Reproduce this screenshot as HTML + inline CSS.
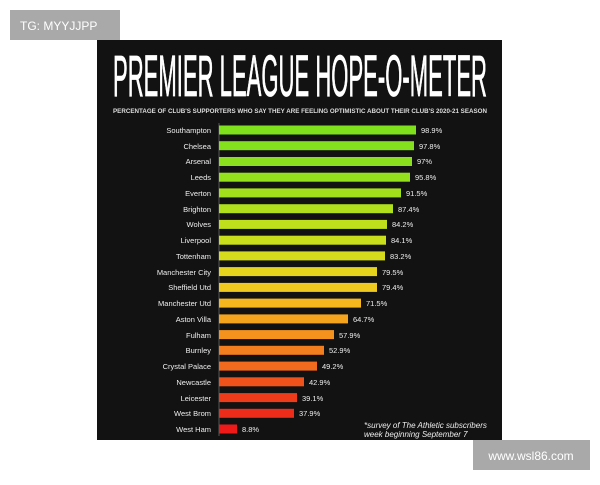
<!DOCTYPE html>
<html><head><meta charset="utf-8"><style>
body{margin:0;background:#fff;width:600px;height:480px;overflow:hidden}
</style></head><body>
<svg width="600" height="480" xmlns="http://www.w3.org/2000/svg" font-family="Liberation Sans, sans-serif">
<rect x="10" y="10" width="110" height="30" fill="#a9a9a9"/>
<text x="20" y="30" font-size="12" fill="#fff">TG: MYYJJPP</text>
<rect x="97" y="40" width="405" height="400" fill="#121212"/>
<text x="113" y="96" font-size="58" fill="#fff" stroke="#fff" stroke-width="0.8" textLength="374" lengthAdjust="spacingAndGlyphs">PREMIER LEAGUE HOPE-O-METER</text>
<text x="113" y="113" font-size="6" font-weight="bold" fill="#ddd" textLength="374" lengthAdjust="spacingAndGlyphs">PERCENTAGE OF CLUB'S SUPPORTERS WHO SAY THEY ARE FEELING OPTIMISTIC ABOUT THEIR CLUB'S 2020-21 SEASON</text>
<line x1="219" y1="123" x2="219" y2="436" stroke="#555" stroke-width="1"/>
<g font-size="7.5">
<g fill="#eee" text-anchor="end">
<text x="211" y="133">Southampton</text><text x="211" y="149">Chelsea</text><text x="211" y="164">Arsenal</text><text x="211" y="180">Leeds</text><text x="211" y="196">Everton</text><text x="211" y="212">Brighton</text><text x="211" y="227">Wolves</text><text x="211" y="243">Liverpool</text><text x="211" y="259">Tottenham</text><text x="211" y="275">Manchester City</text><text x="211" y="290">Sheffield Utd</text><text x="211" y="306">Manchester Utd</text><text x="211" y="322">Aston Villa</text><text x="211" y="338">Fulham</text><text x="211" y="353">Burnley</text><text x="211" y="369">Crystal Palace</text><text x="211" y="385">Newcastle</text><text x="211" y="401">Leicester</text><text x="211" y="416">West Brom</text><text x="211" y="432">West Ham</text>
</g>
<rect x="219" y="125.5" width="197" height="9" fill="#7fe01c"/>
<rect x="219" y="141.2" width="195" height="9" fill="#84e01c"/>
<rect x="219" y="157" width="193" height="9" fill="#8ae01c"/>
<rect x="219" y="172.7" width="191" height="9" fill="#94e01c"/>
<rect x="219" y="188.4" width="182" height="9" fill="#a2e01c"/>
<rect x="219" y="204.2" width="174" height="9" fill="#b0e01c"/>
<rect x="219" y="219.9" width="168" height="9" fill="#bee01c"/>
<rect x="219" y="235.7" width="167" height="9" fill="#cadf1c"/>
<rect x="219" y="251.4" width="166" height="9" fill="#d6dc1c"/>
<rect x="219" y="267.1" width="158" height="9" fill="#e6d41c"/>
<rect x="219" y="282.9" width="158" height="9" fill="#f0ca1e"/>
<rect x="219" y="298.6" width="142" height="9" fill="#f4b81e"/>
<rect x="219" y="314.4" width="129" height="9" fill="#f5a41e"/>
<rect x="219" y="330.1" width="115" height="9" fill="#f5921e"/>
<rect x="219" y="345.8" width="105" height="9" fill="#f47e1e"/>
<rect x="219" y="361.6" width="98" height="9" fill="#f26a1e"/>
<rect x="219" y="377.3" width="85" height="9" fill="#f0521c"/>
<rect x="219" y="393.1" width="78" height="9" fill="#ee3c1a"/>
<rect x="219" y="408.8" width="75" height="9" fill="#ee2c1a"/>
<rect x="219" y="424.5" width="18" height="9" fill="#ee1a1a"/>
<g fill="#eee">
<text x="421" y="133">98.9%</text><text x="419" y="149">97.8%</text><text x="417" y="164">97%</text><text x="415" y="180">95.8%</text><text x="406" y="196">91.5%</text><text x="398" y="212">87.4%</text><text x="392" y="227">84.2%</text><text x="391" y="243">84.1%</text><text x="390" y="259">83.2%</text><text x="382" y="275">79.5%</text><text x="382" y="290">79.4%</text><text x="366" y="306">71.5%</text><text x="353" y="322">64.7%</text><text x="339" y="338">57.9%</text><text x="329" y="353">52.9%</text><text x="322" y="369">49.2%</text><text x="309" y="385">42.9%</text><text x="302" y="401">39.1%</text><text x="299" y="416">37.9%</text><text x="242" y="432">8.8%</text>
</g>
</g>
<g font-size="8" font-style="italic" fill="#eee">
<text x="364" y="428">*survey of The Athletic subscribers</text>
<text x="364" y="437">week beginning September 7</text>
</g>
<rect x="473" y="440" width="117" height="30" fill="#a9a9a9"/>
<text x="531" y="460" font-size="12" fill="#fff" text-anchor="middle">www.wsl86.com</text>
</svg>
</body></html>
